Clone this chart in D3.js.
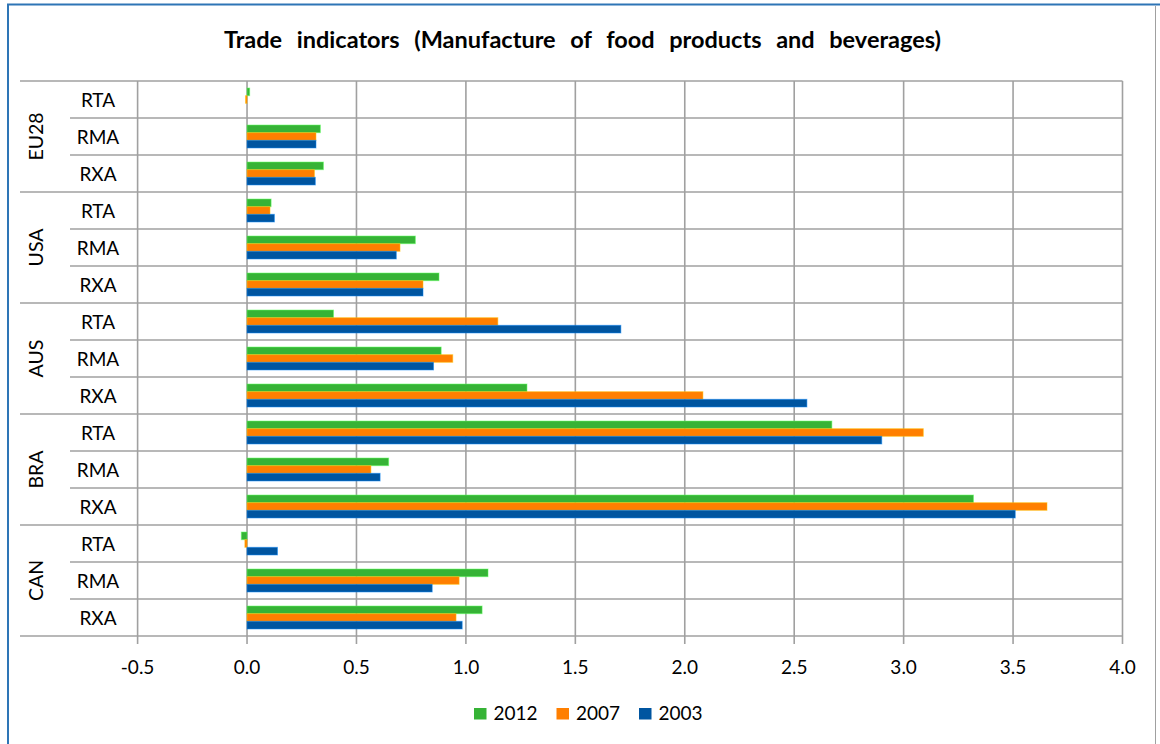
<!DOCTYPE html>
<html>
<head>
<meta charset="utf-8">
<script src="https://cdn.jsdelivr.net/npm/d3@7"></script>
<style>
  html, body { margin: 0; padding: 0; background: #fff; }
  svg { display: block; font-family: Lato, "Open Sans", sans-serif; }
</style>
</head>
<body>
<svg id="chart" width="1160" height="744"></svg>
<script>
// ---- data ----
const groups = ["EU28", "USA", "AUS", "BRA", "CAN"];
const indicators = ["RTA", "RMA", "RXA"];
const seriesNames = ["2012", "2007", "2003"];
const seriesColors = ["#36B336", "#FF7F00", "#0055A0"];
const v2012 = [0.012, 0.335, 0.349, 0.110, 0.769, 0.877, 0.395, 0.887, 1.279, 2.672, 0.647, 3.319, -0.026, 1.101, 1.074];
const v2007 = [-0.007, 0.315, 0.308, 0.105, 0.699, 0.804, 1.146, 0.940, 2.083, 3.090, 0.566, 3.655, -0.010, 0.969, 0.955];
const v2003 = [0.000, 0.315, 0.312, 0.125, 0.682, 0.804, 1.708, 0.852, 2.558, 2.900, 0.608, 3.510, 0.139, 0.846, 0.983];
const xTicks = [-0.5, 0, 0.5, 1, 1.5, 2, 2.5, 3, 3.5, 4];
const xTickLabels = ["-0.5", "0.0", "0.5", "1.0", "1.5", "2.0", "2.5", "3.0", "3.5", "4.0"];
const title = "Trade indicators (Manufacture of food products and beverages)";

(function () {
// ---- build rows ----
const rows = [];
groups.forEach((g, gi) => indicators.forEach((ind, ii) => {
  const k = gi * indicators.length + ii;
  rows.push({ key: g + "|" + ind, group: g, ind, vals: [v2012[k], v2007[k], v2003[k]] });
}));

const svg = d3.select("#chart");
const pLeft = 137.6, pRight = 1122.5, pTop = 81, pBottom = 636;

const x = d3.scaleLinear().domain([-0.5, 4]).range([pLeft, pRight]);
const y = d3.scaleBand().domain(rows.map(r => r.key)).range([pTop, pBottom]).padding(0);
const rowH = y.bandwidth();
const ys = d3.scaleBand().domain(seriesNames).range([rowH * 0.19, rowH * 0.81]).padding(0);

const grid = "#a0a0a0";
const fs = 19;

// frame
svg.append("line").attr("x1", 7).attr("x2", 1160).attr("y1", 4.5).attr("y2", 4.5)
  .attr("stroke", "#2e75b6").attr("stroke-width", 2);
svg.append("line").attr("x1", 8).attr("x2", 8).attr("y1", 4).attr("y2", 744)
  .attr("stroke", "#2e75b6").attr("stroke-width", 2);
svg.append("line").attr("x1", 1155.5).attr("x2", 1155.5).attr("y1", 6).attr("y2", 744)
  .attr("stroke", "#a0a0a0").attr("stroke-width", 1);

// title (word spacing stretched to the reference width)
const t = svg.append("text").attr("x", 582.5).attr("y", 48).attr("text-anchor", "middle")
  .attr("font-weight", "bold").attr("font-size", 23.5).attr("fill", "#000").text(title);
const tw = t.node().getComputedTextLength();
const nSp = title.split(" ").length - 1;
const extra = (717 - tw) / nSp;
if (extra > 0) t.attr("word-spacing", extra);

// vertical gridlines (with ticks below)
svg.append("g").selectAll("line").data(xTicks).join("line")
  .attr("x1", d => x(d)).attr("x2", d => x(d))
  .attr("y1", pTop).attr("y2", pBottom + 8)
  .attr("stroke", grid).attr("stroke-width", 1.6);

// horizontal row lines
const bounds = d3.range(rows.length + 1);
svg.append("g").selectAll("line").data(bounds).join("line")
  .attr("x1", i => (i % indicators.length === 0) ? 20 : 70)
  .attr("x2", pRight)
  .attr("y1", i => pTop + i * rowH).attr("y2", i => pTop + i * rowH)
  .attr("stroke", grid).attr("stroke-width", 1.6);

// bars
const rowG = svg.append("g").selectAll("g").data(rows).join("g")
  .attr("transform", d => `translate(0,${y(d.key)})`);
rowG.selectAll("rect").data(d => d.vals.map((v, i) => ({ v, s: seriesNames[i], c: seriesColors[i] })))
  .join("rect")
  .attr("x", d => x(Math.min(0, d.v)))
  .attr("width", d => Math.abs(x(d.v) - x(0)))
  .attr("y", d => ys(d.s))
  .attr("height", ys.bandwidth())
  .attr("fill", d => d.c)
  .attr("stroke", d => d3.color(d.c).brighter(1.2))
  .attr("stroke-opacity", 0.5)
  .attr("stroke-width", 1);

// x axis labels
svg.append("g").selectAll("text").data(xTicks).join("text")
  .attr("x", d => x(d)).attr("y", 674).attr("text-anchor", "middle")
  .attr("font-size", fs).attr("fill", "#000")
  .text((d, i) => xTickLabels[i]);

// category labels
svg.append("g").selectAll("text").data(rows).join("text")
  .attr("x", 98).attr("y", d => y(d.key) + rowH / 2 + 7).attr("text-anchor", "middle")
  .attr("font-size", fs).attr("fill", "#000").text(d => d.ind);

// group labels
svg.append("g").selectAll("text").data(groups).join("text")
  .attr("transform", (g, gi) => {
    const cy = pTop + (gi * indicators.length + indicators.length / 2) * rowH;
    return `translate(42.5,${cy}) rotate(-90)`;
  })
  .attr("text-anchor", "middle").attr("font-size", 19.5).attr("fill", "#000").text(d => d);

// legend
const legendX = [474, 556.5, 639];
const lg = svg.append("g").selectAll("g").data(seriesNames).join("g")
  .attr("transform", (d, i) => `translate(${legendX[i]},708)`);
lg.append("rect").attr("width", 12.5).attr("height", 11.5).attr("fill", (d, i) => seriesColors[i]);
lg.append("text").attr("x", 19.5).attr("y", 12).attr("font-size", fs).attr("fill", "#000").text(d => d);
})();
</script>
</body>
</html>
